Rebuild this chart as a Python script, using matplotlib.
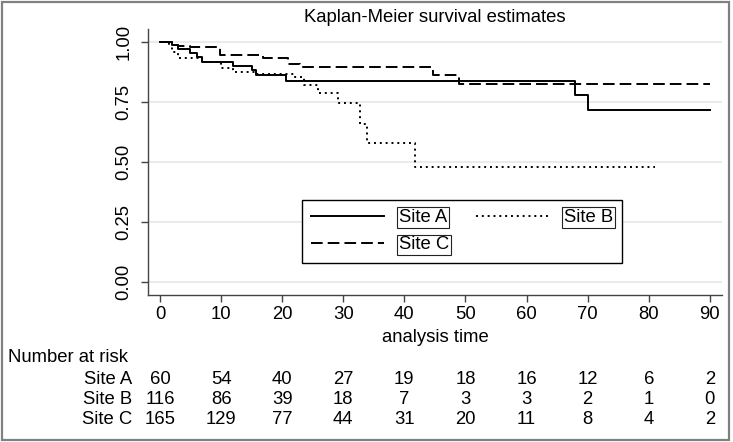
import matplotlib
matplotlib.use("Agg")
import matplotlib.pyplot as plt
from matplotlib.patches import Rectangle
import matplotlib.transforms as mtransforms

plt.rcParams['font.family'] = ['Liberation Sans', 'DejaVu Sans']
FS = 13.3
plt.rcParams['font.size'] = FS

# survival curves (step functions)
t_a = [0, 1.9, 3.0, 4.9, 6.0, 6.8, 12.0, 15.0, 15.8, 20.7, 68.0, 70.0, 90]
s_a = [1.0, 0.988, 0.971, 0.955, 0.939, 0.918, 0.90, 0.883, 0.862, 0.838, 0.78, 0.715, 0.715]

t_b = [0, 1.9, 3.0, 6.8, 10.0, 12.0, 15.8, 22.0, 23.6, 25.9, 29.2, 32.7, 33.9, 41.7, 81]
s_b = [1.0, 0.96, 0.932, 0.918, 0.89, 0.876, 0.865, 0.855, 0.822, 0.786, 0.745, 0.66, 0.578, 0.48, 0.48]

t_c = [0, 1.5, 3.0, 4.9, 9.8, 16.9, 21.0, 23.0, 44.7, 49.0, 90]
s_c = [1.0, 0.988, 0.983, 0.978, 0.946, 0.935, 0.908, 0.894, 0.8625, 0.825, 0.825]

# number at risk table
risk_times = [0, 10, 20, 30, 40, 50, 60, 70, 80, 90]
risk_labels = ['Site A', 'Site B', 'Site C']
risk_a = [60, 54, 40, 27, 19, 18, 16, 12, 6, 2]
risk_b = [116, 86, 39, 18, 7, 3, 3, 2, 1, 0]
risk_c = [165, 129, 77, 44, 31, 20, 11, 8, 4, 2]

W, H = 733, 442
fig = plt.figure(figsize=(W / 100, H / 100), dpi=100)

def fx(px):
    return px / W

def fy(py):
    return 1 - py / H

# axes: left 148px, right 722px, top 29px, bottom 295px
ax = fig.add_axes([fx(148), fy(295), fx(722 - 148), (295 - 29) / H])
ax.set_xlim(-1.96, 92)
ax.set_ylim(-0.055, 1.054)

lw = 1.4
ax.step(t_a, s_a, where='post', color='black', lw=lw, label='Site A')
ax.step(t_b, s_b, where='post', color='black', lw=lw, linestyle=(0, (1.0, 2.0)), label='Site B')
ax.step(t_c, s_c, where='post', color='black', lw=lw, linestyle=(0, (6.0, 2.6)), label='Site C')

ax.set_yticks([0, 0.25, 0.5, 0.75, 1.0])
ax.set_yticklabels(['0.00', '0.25', '0.50', '0.75', '1.00'], rotation=90, va='center')
ax.set_xticks(risk_times)
ax.yaxis.grid(True, color='#e8e8e8', lw=1.2)
ax.set_axisbelow(True)
for side in ['top', 'right']:
    ax.spines[side].set_visible(False)
for side in ['left', 'bottom']:
    ax.spines[side].set_color('#444444')
    ax.spines[side].set_linewidth(1.0)
ax.tick_params(axis='both', direction='out', length=5, width=1.0, color='#444444', labelsize=FS)
ax.tick_params(axis='y', pad=6)
ax.tick_params(axis='x', pad=3)

# legend, ordered so that row 1 is A / B and row 2 is C
h = {l.get_label(): l for l in ax.get_lines()}
leg = ax.legend([h['Site A'], h['Site C'], h['Site B']], ['Site A', 'Site C', 'Site B'],
                ncol=2, loc='upper left', bbox_to_anchor=(fx(302), fy(200)),
                bbox_transform=fig.transFigure, borderaxespad=0, fancybox=False, framealpha=1,
                edgecolor='black', handlelength=3.95, handletextpad=0.8,
                columnspacing=1.47, borderpad=0.5, labelspacing=0.55, fontsize=FS)
leg.get_frame().set_linewidth(1.0)
for txt in leg.get_texts():
    txt.set_bbox(dict(boxstyle='square,pad=0.1', fc='white', ec='#222222', lw=0.8))

# title and x label
cx = fx((148 + 722) / 2)
fig.text(cx, fy(17), 'Kaplan-Meier survival estimates', ha='center', va='center', fontsize=FS)
fig.text(cx, fy(338), 'analysis time', ha='center', va='center', fontsize=FS)

# number at risk
trans = mtransforms.blended_transform_factory(ax.transData, fig.transFigure)
fig.text(fx(8), fy(358), 'Number at risk', ha='left', va='center', fontsize=FS)
rows = [risk_a, risk_b, risk_c]
for i, (lab, vals) in enumerate(zip(risk_labels, rows)):
    yy = fy(379 + 20 * i)
    fig.text(fx(132), yy, lab, ha='right', va='center', fontsize=FS)
    for t, v in zip(risk_times, vals):
        ax.text(t, yy, str(v), transform=trans, ha='center', va='center', fontsize=FS, clip_on=False)

# outer frame
fig.patches.append(Rectangle((fx(2), fy(440)), fx(727), 438 / H, transform=fig.transFigure,
                             fill=False, ec='#808080', lw=1.6))

fig.savefig('out.png', dpi=100)
